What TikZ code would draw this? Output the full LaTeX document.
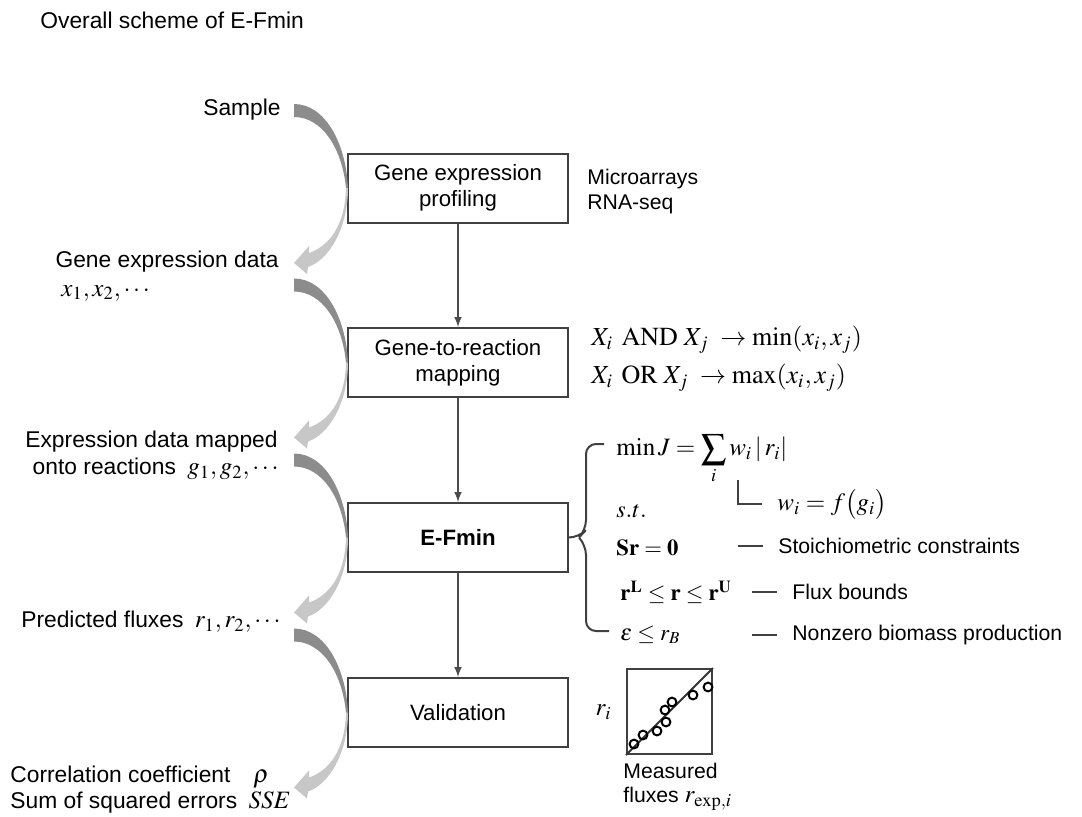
\documentclass[tikz,border=0pt]{standalone}
\usepackage{mathptmx}
\usepackage[no-math]{fontspec}
\setmainfont{Liberation Sans}
\usetikzlibrary{positioning}
\newcommand{\fm}[2][12.5]{{\fontsize{#1}{14}\selectfont$#2$}}
\tikzset{
  proc/.style={draw=black!75, line width=1pt, minimum width=110pt, minimum height=34.5pt, inner sep=0pt, align=center, font=\fontsize{11.1}{13}\selectfont},
  lbl/.style={inner sep=0pt},
  side/.style={inner sep=0pt, font=\fontsize{11.4}{13}\selectfont},
  flow/.style={-latex, draw=black!70, line width=0.7pt},
  brace/.style={draw=black!75, line width=1pt},
  tick/.style={draw=black!75, line width=1pt, shorten >=7.5pt},
}
% grey curved arrow passing the west side of a box
\newcommand{\gflow}[1]{%
  \begin{scope}[shift={(#1.west)}]
  \fill[black!45] (-53,-84) .. controls (-22,-84) and (-1,-45) .. (1,0)
     -- (-1,0) .. controls (-5,-40) and (-25,-71) .. (-53,-71) -- cycle;
  \fill[black!22] (1,0) .. controls (1,40) and (-18,72) .. (-39,79)
     -- (-40,86) -- (-53,75) -- (-38,58) -- (-38,65)
     .. controls (-18,58) and (-2,38) .. (-1,0) -- cycle;
  \end{scope}}
\begin{document}
\begin{tikzpicture}[x=0.5pt,y=-0.5pt,font=\fontsize{10.6}{13}\selectfont]
\useasboundingbox (0,0) rectangle (1082,816);
\node[side,anchor=west] (title) at (40,20) {Overall scheme of E-Fmin};

% boxes
\node[proc] (gep) at (458,188) {Gene expression\\profiling};
\node[proc] (gtr) at (458,362.5) {Gene-to-reaction\\mapping};
\node[proc] (efm) at (458,537.5) {\textbf{E-Fmin}};
\node[proc] (val) at (458,712.5) {Validation};
\draw[flow] (gep) -- (gtr);
\draw[flow] (gtr) -- (efm);
\draw[flow] (efm) -- (val);

% left labels
\node[side,anchor=east] (smp) at (281,110) {Sample};
\node[side,anchor=east] (gexp) at (279,262) {Gene expression data};
\node[side,anchor=west] (xs) at (61,293) {\fm{x_1,x_2,\cdots}};
\node[side,anchor=east] (emap) at (278,442) {Expression data mapped};
\node[side,anchor=east] (gs) at (279,469) {onto reactions\enspace\fm{g_1,g_2,\cdots}};
\node[side,anchor=east] (pflux) at (281,622) {Predicted fluxes\enspace\fm{r_1,r_2,\cdots}};
\node[side,anchor=west] (corr) at (10,777) {Correlation coefficient\quad\fm{\rho}};
\node[side,anchor=west] (sse) at (10,802) {Sum of squared errors\enspace\fm{\mathit{SSE}}};

\gflow{gep}
\gflow{gtr}
\gflow{efm}
\gflow{val}

% right side
\node[lbl,anchor=west] (micro) at (587,179) {Microarrays};
\node[lbl,anchor=west] (rna) at (587,204) {RNA-seq};
\node[lbl,anchor=west] (andr) at (591,340) {\fm[13]{X_i\;\,\mathrm{AND}\;X_j\;\rightarrow\min(x_i,x_j)}};
\node[lbl,anchor=west] (orr) at (591,378) {\fm[13]{X_i\;\,\mathrm{OR}\;X_j\;\rightarrow\max(x_i,x_j)}};

\draw[brace,rounded corners=5pt] (604,444) -- (586,444) -- (586,530) -- (579,537.5) -- (efm.east);
\draw[brace,rounded corners=5pt] (579,537.5) -- (586,545) -- (586,631) -- (609,631);
\node[lbl,anchor=west] (obj) at (616,459) {\fm[12.5]{\min J=\displaystyle\sum_i w_i\,|\,r_i|}};
\node[lbl,anchor=west] (wf) at (777,504) {\fm[12.5]{w_i=f\bigl(g_i\bigr)}};
\draw[tick] (738,480) -- (738,504) -- (wf.west);
\node[lbl,anchor=west] (st) at (616,511) {\fm[12]{s.t.}};
\node[lbl,anchor=west] (sr) at (616,548) {\fm[11.4]{\mathbf{Sr}=\mathbf{0}}};
\node[lbl,anchor=west] (bnd) at (620,592) {\fm[11.4]{\mathbf{r}^{\mathbf{L}}\le\mathbf{r}\le\mathbf{r}^{\mathbf{U}}}};
\node[lbl,anchor=west] (eps) at (620,635) {\fm[11.4]{\varepsilon\le r_B}};
\node[lbl,anchor=west] (stoi) at (778,546) {Stoichiometric constraints};
\node[lbl,anchor=west] (flb) at (792,592) {Flux bounds};
\node[lbl,anchor=west] (bio) at (792,635) {Nonzero biomass production};
\draw[tick] (738,546) -- (stoi.west);
\draw[tick] (752,592) -- (flb.west);
\draw[tick] (752,635) -- (bio.west);

% validation plot
\node[draw=black!75,line width=1pt,minimum size=42.5pt,inner sep=0pt] (plt) at (669.5,711.5) {};
\draw[black!80,line width=1pt] (plt.south west) -- (plt.north east);
\foreach \px/\py in {634/744,643/735,657/731,666/722,665/710,672/702,693/695,708/687}
  \draw[line width=1pt] (\px,\py) circle (2.2pt);
\node[lbl,anchor=east] (ri) at (612,712) {\fm[12.5]{r_i}};
\node[lbl,anchor=west] (meas) at (623,771) {Measured};
\node[lbl,anchor=west] (rexp) at (623,799) {fluxes \fm[12.5]{r_{\mathrm{exp},i}}};
\end{tikzpicture}
\end{document}
